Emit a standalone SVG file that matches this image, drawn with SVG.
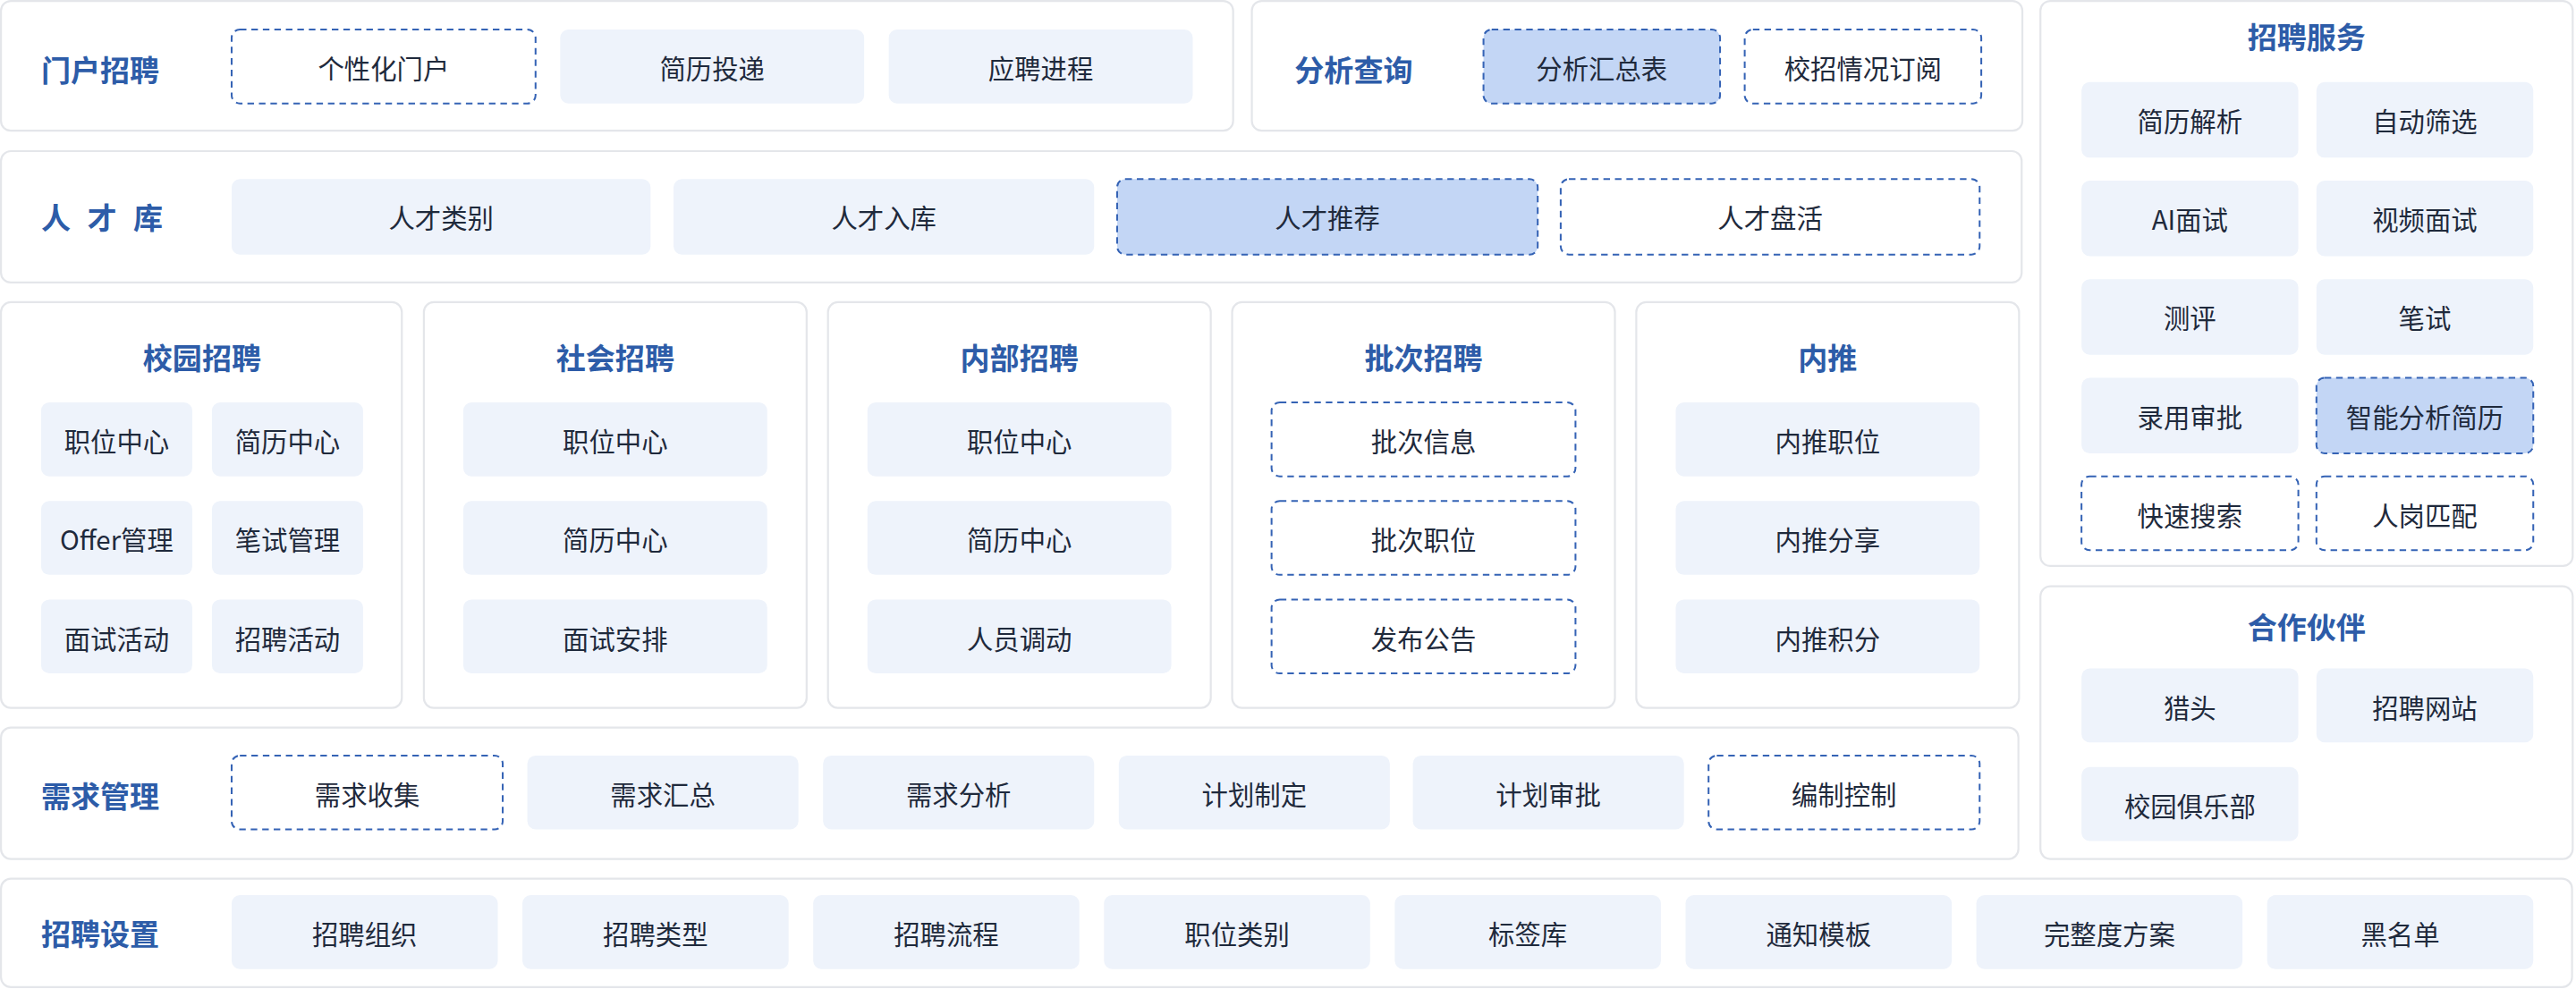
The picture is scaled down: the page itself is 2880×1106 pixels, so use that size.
<svg xmlns="http://www.w3.org/2000/svg" width="2880" height="1106" viewBox="0 0 2880 1106">
<style>
.p{fill:#fff;stroke:#e4e6ea;stroke-width:1.2}
.b{fill:#eef3fb}
.d{fill:#fff;stroke:#3563b5;stroke-width:1.1;stroke-dasharray:4 3}
.h{fill:#c3d6f5;stroke:#3563b5;stroke-width:1.1;stroke-dasharray:4 3}
text{font-family:"Noto Sans CJK SC","Noto Sans",sans-serif;dominant-baseline:central}
.t{font-size:16px;fill:#1f2a3c;text-anchor:middle}
.l{font-size:18px;font-weight:bold;fill:#2d5ca8}
.c{text-anchor:middle}
</style>
<rect width="2880" height="1106" fill="#fff"/>
<g transform="scale(1.83673)">
<g id="portal">
<rect class="p" x="0.6" y="0.6" width="750" height="79" rx="6"/>
<text class="l" x="25" y="42">门户招聘</text>
<rect class="d" x="141" y="18" width="185" height="45" rx="5"/><text class="t" x="233.5" y="41">个性化门户</text>
<rect class="b" x="341" y="18" width="185" height="45" rx="5"/><text class="t" x="433.5" y="41">简历投递</text>
<rect class="b" x="541" y="18" width="185" height="45" rx="5"/><text class="t" x="633.5" y="41">应聘进程</text>
</g>
<g id="analysis">
<rect class="p" x="762" y="0.6" width="469" height="79" rx="6"/>
<text class="l" x="788" y="42">分析查询</text>
<rect class="h" x="903" y="18" width="144" height="45" rx="5"/><text class="t" x="975" y="41">分析汇总表</text>
<rect class="d" x="1062" y="18" width="144" height="45" rx="5"/><text class="t" x="1134" y="41">校招情况订阅</text>
</g>
<g id="talent">
<rect class="p" x="0.6" y="92" width="1230" height="80" rx="6"/>
<text class="l" x="25" y="132" letter-spacing="3">人 才 库</text>
<rect class="b" x="141" y="109" width="255" height="46" rx="5"/><text class="t" x="268.5" y="132">人才类别</text>
<rect class="b" x="410" y="109" width="256" height="46" rx="5"/><text class="t" x="538" y="132">人才入库</text>
<rect class="h" x="680" y="109" width="256" height="46" rx="5"/><text class="t" x="808" y="132">人才推荐</text>
<rect class="d" x="950" y="109" width="255" height="46" rx="5"/><text class="t" x="1077.5" y="132">人才盘活</text>
</g>
<g id="campus">
<rect class="p" x="0.6" y="184" width="244" height="247" rx="6"/>
<text class="l c" x="123" y="217">校园招聘</text>
<rect class="b" x="25" y="245" width="92" height="45" rx="5"/><text class="t" x="71" y="268">职位中心</text>
<rect class="b" x="129" y="245" width="92" height="45" rx="5"/><text class="t" x="175" y="268">简历中心</text>
<rect class="b" x="25" y="305" width="92" height="45" rx="5"/><text class="t" x="71" y="328">Offer管理</text>
<rect class="b" x="129" y="305" width="92" height="45" rx="5"/><text class="t" x="175" y="328">笔试管理</text>
<rect class="b" x="25" y="365" width="92" height="45" rx="5"/><text class="t" x="71" y="388">面试活动</text>
<rect class="b" x="129" y="365" width="92" height="45" rx="5"/><text class="t" x="175" y="388">招聘活动</text>
</g>
<g id="social">
<rect class="p" x="258" y="184" width="233" height="247" rx="6"/>
<text class="l c" x="374.5" y="217">社会招聘</text>
<rect class="b" x="282" y="245" width="185" height="45" rx="5"/><text class="t" x="374.5" y="268">职位中心</text>
<rect class="b" x="282" y="305" width="185" height="45" rx="5"/><text class="t" x="374.5" y="328">简历中心</text>
<rect class="b" x="282" y="365" width="185" height="45" rx="5"/><text class="t" x="374.5" y="388">面试安排</text>
</g>
<g id="internal">
<rect class="p" x="504" y="184" width="233" height="247" rx="6"/>
<text class="l c" x="620.5" y="217">内部招聘</text>
<rect class="b" x="528" y="245" width="185" height="45" rx="5"/><text class="t" x="620.5" y="268">职位中心</text>
<rect class="b" x="528" y="305" width="185" height="45" rx="5"/><text class="t" x="620.5" y="328">简历中心</text>
<rect class="b" x="528" y="365" width="185" height="45" rx="5"/><text class="t" x="620.5" y="388">人员调动</text>
</g>
<g id="batch">
<rect class="p" x="750" y="184" width="233" height="247" rx="6"/>
<text class="l c" x="866.5" y="217">批次招聘</text>
<rect class="d" x="774" y="245" width="185" height="45" rx="5"/><text class="t" x="866.5" y="268">批次信息</text>
<rect class="d" x="774" y="305" width="185" height="45" rx="5"/><text class="t" x="866.5" y="328">批次职位</text>
<rect class="d" x="774" y="365" width="185" height="45" rx="5"/><text class="t" x="866.5" y="388">发布公告</text>
</g>
<g id="referral">
<rect class="p" x="996" y="184" width="233" height="247" rx="6"/>
<text class="l c" x="1112.5" y="217">内推</text>
<rect class="b" x="1020" y="245" width="185" height="45" rx="5"/><text class="t" x="1112.5" y="268">内推职位</text>
<rect class="b" x="1020" y="305" width="185" height="45" rx="5"/><text class="t" x="1112.5" y="328">内推分享</text>
<rect class="b" x="1020" y="365" width="185" height="45" rx="5"/><text class="t" x="1112.5" y="388">内推积分</text>
</g>
<g id="demand">
<rect class="p" x="0.6" y="443" width="1228" height="80" rx="6"/>
<text class="l" x="25" y="484">需求管理</text>
<rect class="d" x="141" y="460" width="165" height="45" rx="5"/><text class="t" x="223.5" y="483">需求收集</text>
<rect class="b" x="321" y="460" width="165" height="45" rx="5"/><text class="t" x="403.5" y="483">需求汇总</text>
<rect class="b" x="501" y="460" width="165" height="45" rx="5"/><text class="t" x="583.5" y="483">需求分析</text>
<rect class="b" x="681" y="460" width="165" height="45" rx="5"/><text class="t" x="763.5" y="483">计划制定</text>
<rect class="b" x="860" y="460" width="165" height="45" rx="5"/><text class="t" x="942.5" y="483">计划审批</text>
<rect class="d" x="1040" y="460" width="165" height="45" rx="5"/><text class="t" x="1122.5" y="483">编制控制</text>
</g>
<g id="settings">
<rect class="p" x="0.6" y="535" width="1565" height="66" rx="6"/>
<text class="l" x="25" y="568">招聘设置</text>
<rect class="b" x="141" y="545" width="162" height="45" rx="5"/><text class="t" x="222" y="568">招聘组织</text>
<rect class="b" x="318" y="545" width="162" height="45" rx="5"/><text class="t" x="399" y="568">招聘类型</text>
<rect class="b" x="495" y="545" width="162" height="45" rx="5"/><text class="t" x="576" y="568">招聘流程</text>
<rect class="b" x="672" y="545" width="162" height="45" rx="5"/><text class="t" x="753" y="568">职位类别</text>
<rect class="b" x="849" y="545" width="162" height="45" rx="5"/><text class="t" x="930" y="568">标签库</text>
<rect class="b" x="1026" y="545" width="162" height="45" rx="5"/><text class="t" x="1107" y="568">通知模板</text>
<rect class="b" x="1203" y="545" width="162" height="45" rx="5"/><text class="t" x="1284" y="568">完整度方案</text>
<rect class="b" x="1380" y="545" width="162" height="45" rx="5"/><text class="t" x="1461" y="568">黑名单</text>
</g>
<g id="service">
<rect class="p" x="1242" y="0.6" width="324" height="344" rx="6"/>
<text class="l c" x="1404" y="22">招聘服务</text>
<rect class="b" x="1267" y="50" width="132" height="46" rx="5"/><text class="t" x="1333" y="73">简历解析</text>
<rect class="b" x="1410" y="50" width="132" height="46" rx="5"/><text class="t" x="1476" y="73">自动筛选</text>
<rect class="b" x="1267" y="110" width="132" height="46" rx="5"/><text class="t" x="1333" y="133">AI面试</text>
<rect class="b" x="1410" y="110" width="132" height="46" rx="5"/><text class="t" x="1476" y="133">视频面试</text>
<rect class="b" x="1267" y="170" width="132" height="46" rx="5"/><text class="t" x="1333" y="193">测评</text>
<rect class="b" x="1410" y="170" width="132" height="46" rx="5"/><text class="t" x="1476" y="193">笔试</text>
<rect class="b" x="1267" y="230" width="132" height="46" rx="5"/><text class="t" x="1333" y="253">录用审批</text>
<rect class="h" x="1410" y="230" width="132" height="46" rx="5"/><text class="t" x="1476" y="253">智能分析简历</text>
<rect class="d" x="1267" y="290" width="132" height="45" rx="5"/><text class="t" x="1333" y="313">快速搜索</text>
<rect class="d" x="1410" y="290" width="132" height="45" rx="5"/><text class="t" x="1476" y="313">人岗匹配</text>
</g>
<g id="partner">
<rect class="p" x="1242" y="357" width="324" height="166" rx="6"/>
<text class="l c" x="1404" y="381">合作伙伴</text>
<rect class="b" x="1267" y="407" width="132" height="45" rx="5"/><text class="t" x="1333" y="430">猎头</text>
<rect class="b" x="1410" y="407" width="132" height="45" rx="5"/><text class="t" x="1476" y="430">招聘网站</text>
<rect class="b" x="1267" y="467" width="132" height="45" rx="5"/><text class="t" x="1333" y="490">校园俱乐部</text>
</g>
<g id="connectors"/>
</g>
</svg>
